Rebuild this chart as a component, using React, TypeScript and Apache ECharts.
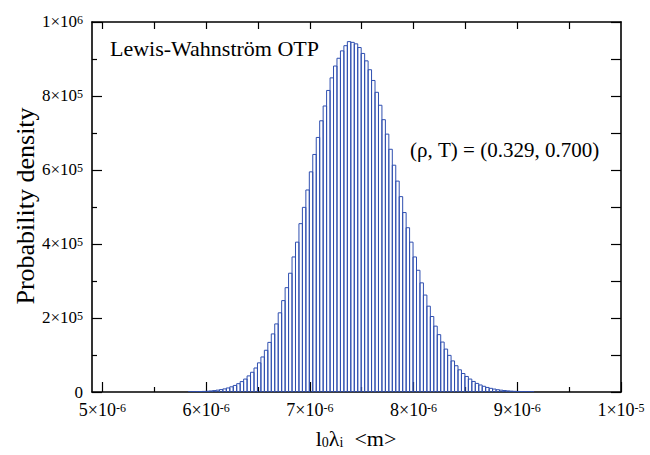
import React, { useEffect, useRef } from "react";
import * as echarts from "echarts";

// Histogram bins (x in metres, density per bin)
const BIN_START = 5.8285e-6;
const BIN_WIDTH = 3.3333e-8;
const DENSITY = [
  450, 620, 850, 1200, 1600, 2100, 2800, 3800, 5000, 6500,
  8400, 10900, 14000, 17700, 22500, 28100, 35000, 43500, 53300, 64900,
  78800, 94700, 112800, 134100, 157000, 184000, 214000, 247000, 282000, 321000,
  365000, 405000, 455000, 499000, 546000, 595000, 642000, 688000, 733000, 773000,
  815000, 849000, 881000, 902000, 922000, 936000, 947000, 945000, 941000, 931000,
  915000, 895000, 871000, 842000, 810000, 775000, 736000, 697000, 656000, 613000,
  570000, 528000, 485000, 444000, 405000, 365000, 329000, 295000, 262000, 232000,
  204000, 178000, 155000, 135000, 116000, 99000, 84000, 71000, 60000, 50000,
  42000, 35000, 28500, 23200, 19000, 15400, 12300, 9900, 7900, 6200,
  4900, 3900, 3000, 2300, 1800, 1400, 1000, 800, 600, 400,
];

const X_MIN = 4.9e-6;
const X_MAX = 1e-5;
const X_MAJOR = [5e-6, 6e-6, 7e-6, 8e-6, 9e-6, 1e-5];
const X_MINOR = [5.5e-6, 6.5e-6, 7.5e-6, 8.5e-6, 9.5e-6];
const X_TOP = [5e-6, 5.5e-6, 6e-6, 6.5e-6, 7e-6, 7.5e-6, 8e-6, 8.5e-6, 9e-6, 9.5e-6];
const Y_MIN = 0;
const Y_MAX = 1e6;
const Y_MAJOR_STEP = 2e5;
const Y_RIGHT_STEP = 1e5;
const Y_LABELS = [0, 2e5, 4e5, 6e5, 8e5, 1e6];

const TITLE_TEXT = "Lewis-Wahnström OTP";
const STATE_TEXT = "(ρ, T) = (0.329, 0.700)";
const Y_NAME = "Probability density";

const FAMILY = "Liberation Serif";
const BAR_COLOR = "#2f4fb0";

function sciLabel(v: number): string {
  if (v === 0) return "{z|0}";
  const e = Math.floor(Math.log10(Math.abs(v)) + 1e-9);
  const m = Math.round(v / Math.pow(10, e));
  return `{b|${m}×10}{s|${e}}`;
}

function makeRich(size: number) {
  return {
    b: { fontSize: size, fontFamily: FAMILY, fill: "#000", lineHeight: size - 1, verticalAlign: "bottom" },
    s: { fontSize: 12, fontFamily: FAMILY, fill: "#000", lineHeight: 12, verticalAlign: "top", padding: [0, 0, 11, 0] },
    z: { fontSize: size, fontFamily: FAMILY, fill: "#000", lineHeight: 11 },
  };
}

export default function App() {
  const ref = useRef<HTMLDivElement>(null);
  useEffect(() => {
    if (!ref.current) return;
    const chart = echarts.init(ref.current, undefined, { renderer: "svg" });
    const data = DENSITY.map((v, i) => [BIN_START + i * BIN_WIDTH, BIN_START + (i + 1) * BIN_WIDTH, v]);
    const axisLine = { show: true, onZero: false, lineStyle: { color: "#000", width: 1.6 } };
    const tickStyle = { color: "#000", width: 1.2 };
    const option: any = {
      animation: false,
      backgroundColor: "#fff",
      grid: { left: 92, top: 22, width: 529, height: 370, containLabel: false },
      xAxis: [
        {
          type: "value", min: X_MIN, max: X_MAX, position: "bottom",
          axisLine,
          axisTick: { show: true, inside: true, length: 10, customValues: X_MAJOR, lineStyle: tickStyle },
          axisLabel: { show: false },
          splitLine: { show: false },
        },
        {
          type: "value", min: X_MIN, max: X_MAX, position: "bottom",
          axisLine: { show: false },
          axisTick: { show: true, inside: true, length: 5, customValues: X_MINOR, lineStyle: tickStyle },
          axisLabel: { show: false },
          splitLine: { show: false },
        },
        {
          type: "value", min: X_MIN, max: X_MAX, position: "top",
          axisLine,
          axisTick: { show: true, inside: true, length: 7, customValues: X_TOP, lineStyle: tickStyle },
          axisLabel: { show: false },
          splitLine: { show: false },
        },
      ],
      yAxis: [
        {
          type: "value", min: Y_MIN, max: Y_MAX, interval: Y_MAJOR_STEP, position: "left",
          axisLine,
          axisTick: { show: true, inside: true, length: 10, lineStyle: tickStyle },
          minorTick: { show: true, splitNumber: 2, length: 5, lineStyle: tickStyle },
          axisLabel: { show: false },
          splitLine: { show: false },
          minorSplitLine: { show: false },
        },
        {
          type: "value", min: Y_MIN, max: Y_MAX, interval: Y_RIGHT_STEP, position: "right",
          axisLine,
          axisTick: { show: true, inside: true, length: 10, lineStyle: tickStyle },
          axisLabel: { show: false },
          splitLine: { show: false },
        },
      ],
      series: [
        {
          type: "custom",
          xAxisIndex: 0,
          yAxisIndex: 0,
          clip: true,
          encode: { x: [0, 1], y: 2 },
          data,
          renderItem: (params: any, api: any) => {
            const p0 = api.coord([api.value(0), api.value(2)]);
            const p1 = api.coord([api.value(1), 0]);
            return {
              type: "rect",
              shape: { x: p0[0], y: p0[1], width: p1[0] - p0[0], height: p1[1] - p0[1] },
              style: { fill: "none", stroke: BAR_COLOR, lineWidth: 1 },
            };
          },
          z: 1,
        },
      ],
    };
    chart.setOption(option);

    // Tick labels placed through the axes' own scales
    const finder = { xAxisIndex: 0, yAxisIndex: 0 };
    const labels: any[] = [];
    Y_LABELS.forEach((v) => {
      const p = chart.convertToPixel(finder, [X_MIN, v]) as number[];
      labels.push({
        type: "text", x: p[0] - 9, y: p[1], z: 10,
        style: { text: sciLabel(v), fontSize: 17, fontFamily: FAMILY, fill: "#000", textAlign: "right", textVerticalAlign: "middle", rich: makeRich(17) },
      });
    });
    X_MAJOR.forEach((v) => {
      const p = chart.convertToPixel(finder, [v, Y_MIN]) as number[];
      labels.push({
        type: "text", x: p[0], y: p[1] + 10, z: 10,
        style: { text: sciLabel(v), fontSize: 18, fontFamily: FAMILY, fill: "#000", textAlign: "center", textVerticalAlign: "top", rich: makeRich(18) },
      });
    });

    chart.setOption({
      graphic: [
        {
          type: "text", x: 110, y: 48, z: 10,
          style: { text: TITLE_TEXT, fontSize: 22, fontFamily: FAMILY, fill: "#000", textAlign: "left", textVerticalAlign: "middle" },
        },
        {
          type: "text", x: 410, y: 150, z: 10,
          style: { text: STATE_TEXT, fontSize: 21, fontFamily: FAMILY, fill: "#000", textAlign: "left", textVerticalAlign: "middle" },
        },
        {
          type: "text", x: 25, y: 206, rotation: Math.PI / 2, z: 10,
          style: { text: Y_NAME, fontSize: 26, fontFamily: FAMILY, fill: "#000", textAlign: "center", textVerticalAlign: "middle" },
        },
        {
          type: "text", x: 356, y: 438, z: 10,
          style: {
            text: "{a|l}{s|0}{a|λ}{s|i}{a|  <m>}",
            fontSize: 22,
            fontFamily: FAMILY,
            fill: "#000",
            textAlign: "center",
            textVerticalAlign: "middle",
            rich: {
              a: { fontSize: 22, fontFamily: FAMILY, fill: "#000", lineHeight: 22, verticalAlign: "top" },
              s: { fontSize: 14, fontFamily: FAMILY, fill: "#000", lineHeight: 14, verticalAlign: "bottom", padding: [14, 0, 0, 0] },
            },
          },
        },
        ...labels,
      ],
    });
    return () => chart.dispose();
  }, []);
  return (
    <div
      ref={ref}
      style={{ position: "fixed", left: 0, top: 0, width: 650, height: 455, background: "#fff" }}
    />
  );
}
